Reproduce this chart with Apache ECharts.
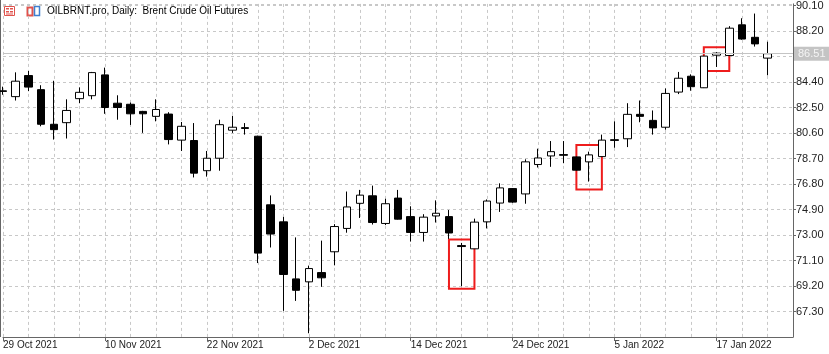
<!DOCTYPE html>
<html>
<head>
<meta charset="utf-8">
<script src="https://cdn.jsdelivr.net/npm/echarts@6/dist/echarts.min.js"></script>
<style>
html, body { margin: 0; padding: 0; background: #fff; }
#chart { width: 829px; height: 354px; }
</style>
</head>
<body>
<div id="chart"></div>
<script>
// trading days, two empty days at the end as right margin
var dates = [
  '29 Oct 2021', '1 Nov 2021', '2 Nov 2021', '3 Nov 2021', '4 Nov 2021', '5 Nov 2021',
  '8 Nov 2021', '9 Nov 2021', '10 Nov 2021', '11 Nov 2021', '12 Nov 2021',
  '15 Nov 2021', '16 Nov 2021', '17 Nov 2021', '18 Nov 2021', '19 Nov 2021',
  '22 Nov 2021', '23 Nov 2021', '24 Nov 2021', '25 Nov 2021', '26 Nov 2021',
  '29 Nov 2021', '30 Nov 2021', '1 Dec 2021', '2 Dec 2021', '3 Dec 2021',
  '6 Dec 2021', '7 Dec 2021', '8 Dec 2021', '9 Dec 2021', '10 Dec 2021',
  '13 Dec 2021', '14 Dec 2021', '15 Dec 2021', '16 Dec 2021', '17 Dec 2021',
  '20 Dec 2021', '21 Dec 2021', '22 Dec 2021', '23 Dec 2021', '24 Dec 2021',
  '27 Dec 2021', '28 Dec 2021', '29 Dec 2021', '30 Dec 2021', '31 Dec 2021',
  '3 Jan 2022', '4 Jan 2022', '5 Jan 2022', '6 Jan 2022', '7 Jan 2022',
  '10 Jan 2022', '11 Jan 2022', '12 Jan 2022', '13 Jan 2022', '14 Jan 2022',
  '17 Jan 2022', '18 Jan 2022', '19 Jan 2022', '20 Jan 2022', '21 Jan 2022',
  '24 Jan 2022', '25 Jan 2022'
];

var opens = [
  83.74, 83.31, 84.88, 83.83, 81.25, 81.37, 83.16, 83.38, 84.93, 82.82,
  82.74, 82.21, 81.84, 82.01, 80.07, 80.04, 77.79, 78.72, 80.81, 81.00,
  80.36, 75.25, 73.98, 69.73, 69.51, 70.20, 71.75, 73.49, 75.36, 75.92,
  73.86, 75.75, 74.37, 73.19, 74.42, 74.37, 72.21, 71.97, 73.98, 75.38,
  76.46, 76.06, 78.25, 78.89, 78.99, 78.82, 78.45, 78.84, 80.10, 80.17,
  81.99, 81.54, 81.03, 83.65, 84.83, 83.97, 86.40, 86.37, 88.66, 87.73,
  86.18
];
var closes = [
  83.70, 84.46, 84.02, 81.25, 80.85, 82.28, 83.63, 85.10, 82.50, 82.50,
  82.03, 82.03, 82.35, 80.11, 81.10, 77.61, 78.72, 81.22, 81.03, 80.94,
  71.65, 73.07, 70.06, 68.88, 70.50, 69.81, 73.63, 75.09, 75.97, 73.93,
  75.33, 74.18, 73.19, 74.33, 74.62, 73.15, 72.14, 73.96, 75.53, 76.51,
  75.45, 78.45, 78.74, 79.21, 78.94, 77.83, 78.97, 80.07, 80.05, 81.99,
  81.84, 80.98, 83.55, 84.68, 84.05, 86.33, 86.55, 88.41, 87.60, 87.24,
  86.51
];
var lows = [
  83.45, 83.02, 83.72, 81.10, 80.11, 80.19, 82.82, 83.11, 82.03, 81.59,
  81.20, 80.61, 81.47, 79.75, 79.26, 77.29, 77.35, 77.79, 80.61, 80.48,
  70.91, 72.07, 67.35, 68.09, 65.68, 69.14, 70.74, 73.17, 74.27, 73.78,
  73.74, 74.15, 72.51, 72.51, 73.93, 72.71, 69.19, 71.97, 73.49, 74.72,
  75.40, 75.33, 78.03, 78.08, 78.35, 77.80, 76.98, 78.84, 79.50, 79.55,
  81.40, 80.48, 80.85, 83.50, 83.75, 83.95, 85.52, 86.35, 87.55, 87.04,
  84.90
];
var highs = [
  84.05, 85.12, 85.22, 84.16, 84.49, 83.11, 84.00, 85.15, 85.47, 83.41,
  82.87, 82.25, 83.11, 82.15, 81.42, 81.34, 79.26, 81.59, 81.88, 81.34,
  80.40, 75.95, 74.35, 72.82, 70.72, 72.58, 73.81, 76.24, 76.36, 76.68,
  75.70, 76.36, 75.14, 74.55, 75.58, 74.86, 72.41, 74.22, 75.65, 76.85,
  76.50, 78.64, 79.43, 80.00, 80.00, 78.85, 79.21, 80.48, 81.47, 82.82,
  83.02, 82.28, 83.92, 85.15, 84.97, 86.35, 86.62, 88.56, 89.15, 89.50,
  87.40
];

// red highlight boxes (bar index range, price range)
var boxFrom = [35, 45, 55];
var boxTo = [37, 47, 57];
var boxTop = [72.66, 79.70, 86.99];
var boxBottom = [69.00, 76.39, 85.22];

var priceMin = 65.4;
var priceMax = 90.22;
var priceStep = 1.9;

var candles = dates.map(function (d, i) {
  if (i >= opens.length) return '-';
  return [opens[i], closes[i], lows[i], highs[i]];
});

var boxes = boxFrom.map(function (f, i) {
  return [{ xAxis: f, yAxis: boxTop[i] }, { xAxis: boxTo[i], yAxis: boxBottom[i] }];
});

var font = 'Liberation Sans';
var chart = echarts.init(document.getElementById('chart'));
var option = {
  animation: false,
  backgroundColor: '#fff',
  title: {
    text: 'OILBRNT.pro, Daily:  Brent Crude Oil Futures',
    left: 44,
    top: 4,
    padding: [2, 3],
    textStyle: { fontFamily: font, fontSize: 10, fontWeight: 'normal', color: '#000' }
  },
  graphic: [
    { type: 'rect', shape: { x: 4.5, y: 6.5, width: 10, height: 9 }, style: { fill: '#fff', stroke: '#e0524c', lineWidth: 1 } },
    { type: 'rect', shape: { x: 6, y: 8, width: 3, height: 1.5 }, style: { fill: '#e0524c' } },
    { type: 'rect', shape: { x: 10, y: 8, width: 3, height: 1.5 }, style: { fill: '#e0524c' } },
    { type: 'rect', shape: { x: 6, y: 11, width: 3, height: 1.5 }, style: { fill: '#e0524c' } },
    { type: 'rect', shape: { x: 10, y: 11, width: 3, height: 1.5 }, style: { fill: '#e0524c' } },
    { type: 'rect', shape: { x: 6, y: 13.5, width: 7, height: 1 }, style: { fill: '#e0524c' } },
    { type: 'rect', shape: { x: 27.5, y: 7.5, width: 5, height: 8 }, style: { fill: '#fff', stroke: '#e0524c', lineWidth: 2 } },
    { type: 'rect', shape: { x: 34.5, y: 6.5, width: 5, height: 9 }, style: { fill: '#fff', stroke: '#3f7fd0', lineWidth: 1.5 } },
    { type: 'line', shape: { x1: 0.5, y1: 0, x2: 0.5, y2: 337 }, style: { stroke: '#666', lineWidth: 1 } }
  ],
  grid: { left: 1, right: 36, top: 0, bottom: 17 },
  xAxis: {
    type: 'category',
    data: dates,
    boundaryGap: false,
    axisLine: { lineStyle: { color: '#666', width: 1 } },
    axisTick: { show: true, interval: 7, length: 4, lineStyle: { color: '#666' } },
    axisLabel: {
      interval: 7,
      align: 'left',
      margin: 3,
      fontFamily: font,
      fontSize: 10,
      color: '#222'
    },
    splitLine: {
      show: true,
      interval: function (i) { return i % 2 === 0; },
      lineStyle: { color: '#c8c8c8', type: [3, 3], width: 1 }
    }
  },
  yAxis: {
    type: 'value',
    position: 'right',
    min: priceMin,
    max: priceMax,
    interval: priceStep,
    axisLine: { show: true, lineStyle: { color: '#666', width: 1 } },
    axisTick: { show: true, length: 3, lineStyle: { color: '#666' } },
    axisLabel: {
      showMinLabel: false,
      showMaxLabel: false,
      margin: 3,
      fontFamily: font,
      fontSize: 11,
      color: '#222',
      formatter: function (v) { return v.toFixed(2); }
    },
    splitLine: { show: true, lineStyle: { color: '#c8c8c8', type: [3, 3], width: 1 } }
  },
  series: [{
    type: 'candlestick',
    data: candles,
    barWidth: 8,
    itemStyle: {
      color: '#fff',
      color0: '#000',
      borderColor: '#000',
      borderColor0: '#000',
      borderWidth: 1
    },
    markLine: {
      silent: true,
      symbol: ['none', 'none'],
      lineStyle: { color: '#c4c4c4', type: 'solid', width: 1 },
      label: {
        position: 'end',
        distance: 1,
        backgroundColor: '#c4c4c4',
        color: '#f4f4f4',
        padding: [2, 4, 1, 4],
        fontFamily: font,
        fontSize: 11,
        formatter: function (p) { return p.value.toFixed(2); }
      },
      data: [{ yAxis: closes[closes.length - 1] }]
    },
    markArea: {
      silent: true,
      label: { show: false },
      itemStyle: { color: 'rgba(0,0,0,0)', borderColor: '#ee1c1c', borderWidth: 2 },
      data: boxes
    }
  }]
};

chart.setOption(option);
</script>
</body>
</html>
